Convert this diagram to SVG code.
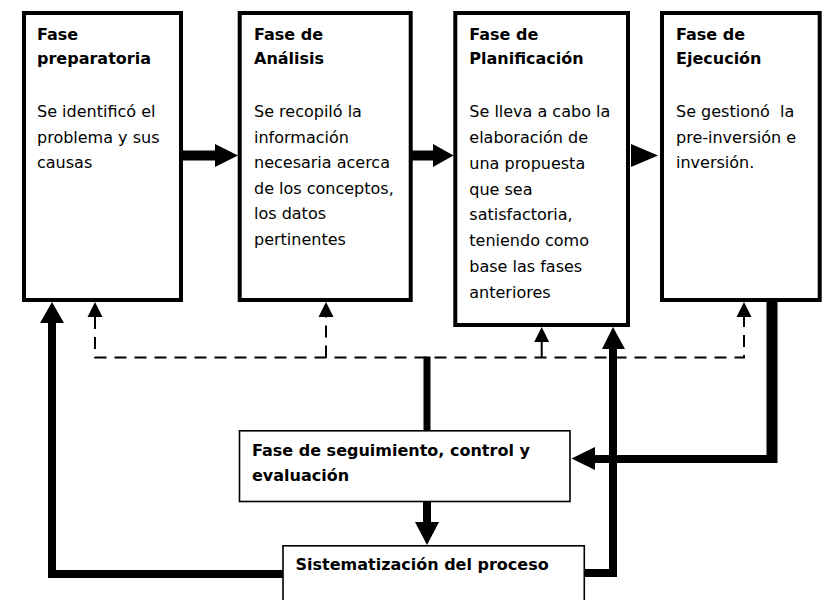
<svg xmlns="http://www.w3.org/2000/svg" width="827" height="600" viewBox="0 0 827 600">
<style>
.box{fill:#fff;stroke:#000;stroke-width:4}
.tbox{fill:#fff;stroke:#000;stroke-width:1.6}
.t{font-family:"DejaVu Sans","Verdana",sans-serif;font-size:16px;fill:#000}
.b{font-weight:bold}
.thick{fill:none;stroke:#000;stroke-linejoin:miter}
.dash{fill:none;stroke:#000;stroke-width:2;stroke-dasharray:12 8}
.head{fill:#000}
</style>
<rect width="827" height="600" fill="#fff"/>
<g id="connectors">
  <!-- top arrows -->
  <line class="thick" x1="183" y1="155.5" x2="217" y2="155.5" stroke-width="10"/>
  <polygon class="head" points="215,144 238,155.5 215,167"/>
  <line class="thick" x1="412" y1="155.5" x2="435" y2="155.5" stroke-width="10"/>
  <polygon class="head" points="433,144 453.5,155.5 433,167"/>
  <polygon class="head" points="631,144 658,155.5 631,167"/>
  <!-- dashed feedback -->
  <polyline class="dash" points="95,317 95,357.5 744,357.5 744,317"/>
  <line class="dash" x1="326" y1="357.5" x2="326" y2="317" stroke-dasharray="12 8" stroke-dashoffset="0"/>
  <line x1="541.7" y1="357.5" x2="541.7" y2="340" stroke="#000" stroke-width="2"/>
  <polygon class="head" points="87.5,317 95,302 102.5,317"/>
  <polygon class="head" points="318.5,317 326,302 333.5,317"/>
  <polygon class="head" points="534.2,342 541.7,327 549.2,342"/>
  <polygon class="head" points="736.5,317 744,302 751.5,317"/>
  <!-- dashed line down to seguimiento -->
  <line class="thick" x1="427" y1="356.5" x2="427" y2="431" stroke-width="7"/>
  <!-- seguimiento to sistematizacion -->
  <line class="thick" x1="427" y1="502" x2="427" y2="524" stroke-width="8"/>
  <polygon class="head" points="415,522 427,545 439,522"/>
  <!-- sistematizacion to fase preparatoria -->
  <polyline class="thick" points="283,574 52,574 52,320" stroke-width="8"/>
  <polygon class="head" points="40,323 52,302 64,323"/>
  <!-- sistematizacion to planificacion -->
  <polyline class="thick" points="585,573 613,573 613,346" stroke-width="8"/>
  <polygon class="head" points="602,349 613,327 625,349"/>
  <!-- ejecucion to seguimiento -->
  <line class="thick" x1="772" y1="300" x2="772" y2="463" stroke-width="11"/>
  <line class="thick" x1="593" y1="459" x2="772" y2="459" stroke-width="8"/>
  <polygon class="head" points="595,447 571.5,458.5 595,470"/>
</g>
<g id="fase-preparatoria">
  <rect class="box" x="24" y="13" width="157" height="287"/>
  <text class="t b" x="37" y="39.5">Fase</text>
  <text class="t b" x="37" y="64">preparatoria</text>
  <text class="t" x="37" y="117">Se identificó el</text>
  <text class="t" x="37" y="142.5">problema y sus</text>
  <text class="t" x="37" y="168">causas</text>
</g>
<g id="fase-analisis">
  <rect class="box" x="239.7" y="13" width="171" height="287"/>
  <text class="t b" x="254" y="39.5">Fase de</text>
  <text class="t b" x="254" y="64">Análisis</text>
  <text class="t" x="254" y="117">Se recopiló la</text>
  <text class="t" x="254" y="142.5">información</text>
  <text class="t" x="254" y="168">necesaria acerca</text>
  <text class="t" x="254" y="193.5">de los conceptos,</text>
  <text class="t" x="254" y="219">los datos</text>
  <text class="t" x="254" y="244.5">pertinentes</text>
</g>
<g id="fase-planificacion">
  <rect class="box" x="455.3" y="13" width="172.7" height="312"/>
  <text class="t b" x="469.3" y="39.5">Fase de</text>
  <text class="t b" x="469.3" y="64">Planificación</text>
  <text class="t" x="469.3" y="117">Se lleva a cabo la</text>
  <text class="t" x="469.3" y="143">elaboración de</text>
  <text class="t" x="469.3" y="168.5">una propuesta</text>
  <text class="t" x="469.3" y="194.5">que sea</text>
  <text class="t" x="469.3" y="220">satisfactoria,</text>
  <text class="t" x="469.3" y="246">teniendo como</text>
  <text class="t" x="469.3" y="271.5">base las fases</text>
  <text class="t" x="469.3" y="297.5">anteriores</text>
</g>
<g id="fase-ejecucion">
  <rect class="box" x="662" y="13" width="157.7" height="287"/>
  <text class="t b" x="676" y="39.5">Fase de</text>
  <text class="t b" x="676" y="64">Ejecución</text>
  <text class="t" x="676" y="117" xml:space="preserve">Se gestionó  la</text>
  <text class="t" x="676" y="142.5">pre-inversión e</text>
  <text class="t" x="676" y="168">inversión.</text>
</g>
<g id="fase-seguimiento">
  <rect class="tbox" x="239.5" y="430.8" width="330.5" height="70.7"/>
  <text class="t b" x="252" y="455.5">Fase de seguimiento, control y</text>
  <text class="t b" x="252" y="480.5">evaluación</text>
</g>
<g id="sistematizacion">
  <rect class="tbox" x="283" y="545.8" width="301.3" height="60"/>
  <text class="t b" x="295.5" y="570">Sistematización del proceso</text>
</g>
</svg>
